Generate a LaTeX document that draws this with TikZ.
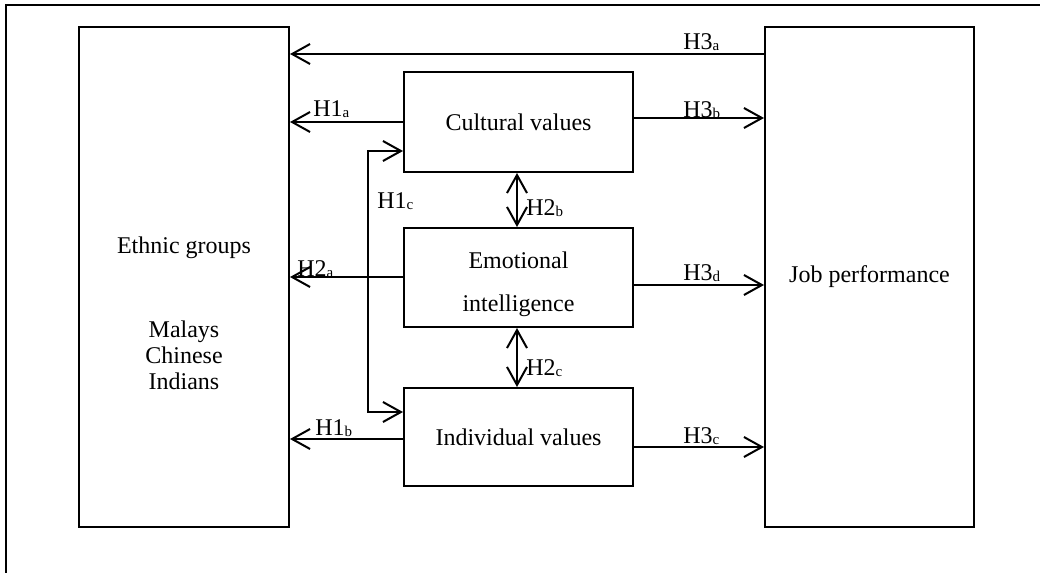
\documentclass[tikz,border=0pt]{standalone}
\usepackage{fontspec}
\setmainfont{Liberation Serif}
\usetikzlibrary{arrows.meta}
\tikzset{
  every node/.style={font=\fontsize{12pt}{13pt}\selectfont, inner sep=0pt},
  box/.style={draw, line width=1pt, rectangle},
  arr/.style={line width=1pt, -{Straight Barb[length=9pt,width=10pt,line width=1pt]}},
  dblarr/.style={line width=1pt, {Straight Barb[length=9pt,width=10pt,line width=1pt]}-{Straight Barb[length=9pt,width=10pt,line width=1pt]}},
  lab/.style={anchor=base west},
  frame/.style={line width=1pt}
}
\newcommand{\sbs}[1]{{\fontsize{7.5pt}{8pt}\selectfont\raisebox{-0.6pt}{#1}}}
\begin{document}
\begin{tikzpicture}[x=0.5pt,y=-0.5pt]
\useasboundingbox (0,0) rectangle (1040,573);
% frame
\coordinate (f1) at (1040,5);
\coordinate (f2) at (6,5);
\coordinate (f3) at (6,573);
\draw[frame] (f1) -- (f2) -- (f3);
% boxes
\node[box, minimum width=105pt, minimum height=250pt] (eth) at (184,277) {};
\node[box, minimum width=104.5pt, minimum height=250pt] (job) at (869.5,277) {Job performance};
\node[box, minimum width=114.5pt, minimum height=50pt] (cult) at (518.5,122) {Cultural values};
\node[box, minimum width=114.5pt, minimum height=49.5pt] (emo) at (518.5,277.5) {};
\node[box, minimum width=114.5pt, minimum height=49pt] (ind) at (518.5,437) {Individual values};
% emotional texts
\node[anchor=base] (e1) at (518.5,268) {Emotional};
\node[anchor=base] (e2) at (518.5,311) {intelligence};
% ethnic texts
\node[anchor=base] (t1) at (184,253) {Ethnic groups};
\node[anchor=base] (t2) at (184,337) {Malays};
\node[anchor=base] (t3) at (184,363) {Chinese};
\node[anchor=base] (t4) at (184,389) {Indians};
% arrows
\draw[arr] (job.west |- 0,54) -- (eth.east |- 0,54);
\draw[arr] (cult.west |- 0,122) -- (eth.east |- 0,122);
\draw[arr] (cult.east |- 0,118) -- (job.west |- 0,118);
\coordinate (c1) at (368,151);
\coordinate (c2) at (368,412);
\draw[dblarr] (cult.west |- c1) -- (c1) -- (c2) -- (ind.west |- c2);
\draw[arr] (emo.west |- 0,277) -- (eth.east |- 0,277);
\draw[arr] (emo.east |- 0,285) -- (job.west |- 0,285);
\draw[dblarr] (cult.south -| 517,0) -- (emo.north -| 517,0);
\draw[dblarr] (emo.south -| 517,0) -- (ind.north -| 517,0);
\draw[arr] (ind.west |- 0,439) -- (eth.east |- 0,439);
\draw[arr] (ind.east |- 0,447) -- (job.west |- 0,447);
% labels
\node[lab] (l3a) at (683,49) {H3\sbs{a}};
\node[lab] (l1a) at (313,116) {H1\sbs{a}};
\node[lab] (l3b) at (683,117) {H3\sbs{b}};
\node[lab] (l1c) at (377,208) {H1\sbs{c}};
\node[lab] (l2b) at (526,215) {H2\sbs{b}};
\node[lab] (l2a) at (297,276) {H2\sbs{a}};
\node[lab] (l3d) at (683,280) {H3\sbs{d}};
\node[lab] (l2c) at (526,375) {H2\sbs{c}};
\node[lab] (l1b) at (315,435) {H1\sbs{b}};
\node[lab] (l3c) at (683,443) {H3\sbs{c}};
\end{tikzpicture}
\end{document}
